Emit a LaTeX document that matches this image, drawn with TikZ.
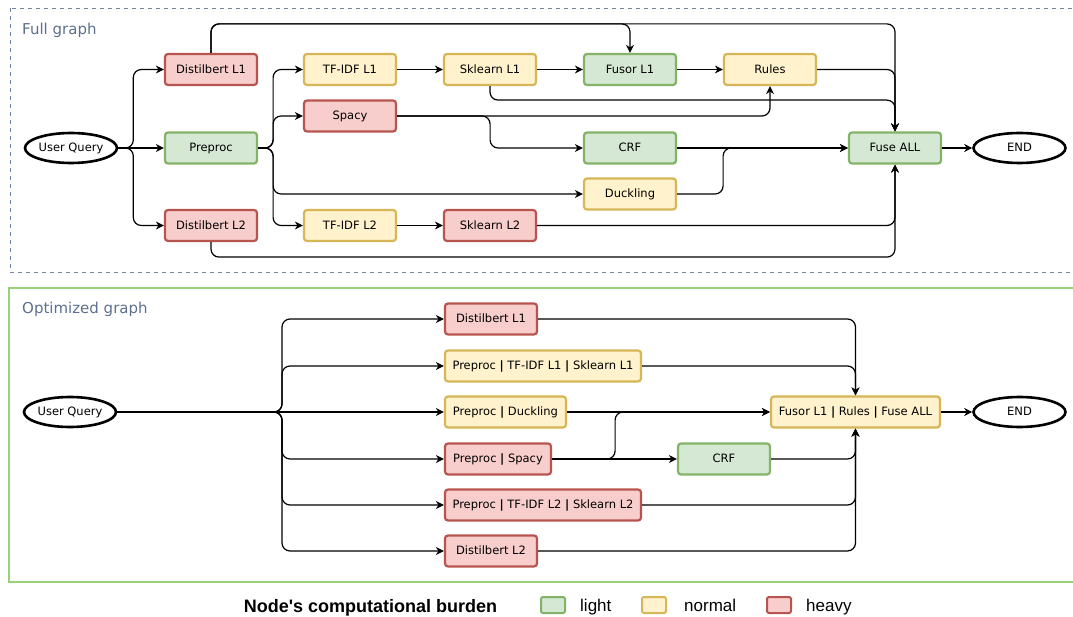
\documentclass[tikz,border=0pt]{standalone}
\usepackage{fontspec}
\setmainfont{DejaVu Sans}
\newfontfamily\legendfont{Liberation Sans}
\usetikzlibrary{arrows.meta, shapes.geometric}
\definecolor{lightfill}{HTML}{D5E8D4}
\definecolor{lightline}{HTML}{82B366}
\definecolor{normalfill}{HTML}{FFF2CC}
\definecolor{normalline}{HTML}{D6B656}
\definecolor{heavyfill}{HTML}{F8CECC}
\definecolor{heavyline}{HTML}{B85450}
\definecolor{framegray}{HTML}{7285A5}
\definecolor{titlegray}{HTML}{5D6F8E}
\definecolor{optgreen}{HTML}{97D077}
\tikzstyle{box}=[rectangle, rounded corners=3pt, line width=2.2pt, minimum width=92pt, minimum height=31pt, inner xsep=4pt, text height=8.5pt, text depth=1pt, font=\fontsize{11.5}{13}\selectfont]
\tikzstyle{lightbox}=[box, draw=lightline, fill=lightfill]
\tikzstyle{normalbox}=[box, draw=normalline, fill=normalfill]
\tikzstyle{heavybox}=[box, draw=heavyline, fill=heavyfill]
\tikzstyle{terminal}=[ellipse, draw, line width=2.6pt, minimum width=92pt, minimum height=30pt, inner sep=0pt, text height=8.5pt, text depth=1pt, font=\fontsize{11.5}{13}\selectfont]
\tikzstyle{link}=[-{Stealth[length=8pt, width=8pt, inset=2.5pt]}, line width=1.2pt, rounded corners=8pt]
\tikzstyle{grouptitle}=[anchor=west, inner sep=0pt, text=titlegray, font=\fontsize{15}{17}\selectfont]
\tikzstyle{swatch}=[rectangle, rounded corners=2pt, line width=2pt, minimum width=24pt, minimum height=16pt]
\tikzstyle{legendtext}=[anchor=base west, inner sep=0pt, font=\legendfont\fontsize{17}{19}\selectfont]

\begin{document}
\begin{tikzpicture}[x=1pt, y=-1pt]
                    \useasboundingbox (0,0) rectangle (1073,617);
                    \draw[framegray, line width=0.9pt, dash pattern=on 4pt off 4pt] (10,8) rectangle (1085,272);
                    \draw[optgreen, line width=2.4pt] (9,288) rectangle (1085,582);
                    \node[grouptitle] (fulltitle) at (22,30) {Full graph};
                    \node[grouptitle] (opttitle)  at (22,309) {Optimized graph};

                    \node[terminal]  (uq1)   at (71,148)    {User Query};
                    \node[heavybox]  (dl1)   at (211,69.5)  {Distilbert L1};
                    \node[lightbox]  (pre)   at (211,148)   {Preproc};
                    \node[heavybox]  (dl2)   at (211,225.5) {Distilbert L2};
                    \node[normalbox] (tf1)   at (350,69.5)  {TF-IDF L1};
                    \node[heavybox]  (spacy) at (350,116)   {Spacy};
                    \node[normalbox] (tf2)   at (350,225.5) {TF-IDF L2};
                    \node[normalbox] (sk1)   at (490,69.5)  {Sklearn L1};
                    \node[heavybox]  (sk2)   at (490,225.5) {Sklearn L2};
                    \node[lightbox]  (fus1)  at (630,69.5)  {Fusor L1};
                    \node[lightbox]  (crf)   at (630,148)   {CRF};
                    \node[normalbox] (duck)  at (630,194)   {Duckling};
                    \node[normalbox] (rules) at (770,69.5)  {Rules};
                    \node[lightbox]  (fall)  at (895,148)   {Fuse ALL};
                    \node[terminal]  (end1)  at (1019.5,148) {END};

                    \draw[link] (uq1.east) -- ++(15,0) |- (dl1);
                    \draw[link] (uq1) -- (pre);
                    \draw[link] (uq1.east) -- ++(15,0) |- (dl2);
                    \draw[link] (dl1.north) -- ++(0,-29) -| (fus1);
                    \draw[link] (dl1.north) -- ++(0,-29) -| (fall);
                    \draw[link] (pre.east) -- ++(15,0) |- (tf1);
                    \draw[link] (pre.east) -- ++(15,0) |- (spacy);
                    \draw[link] (pre.east) -- ++(15,0) |- (duck);
                    \draw[link] (pre.east) -- ++(15,0) |- (tf2);
                    \draw[link] (tf1) -- (sk1);
                    \draw[link] (sk1) -- (fus1);
                    \draw[link] (fus1) -- (rules);
                    \draw[link] (sk1.south) -- ++(0,14) -| (fall);
                    \draw[link] (spacy.east) -- ++(93,0) |- (crf);
                    \draw[link] (spacy.east) -| (rules);
                    \draw[link] (rules.east) -| (fall);
                    \draw[link] (crf) -- (fall);
                    \draw[link] (duck.east) -- ++(46,0) |- (fall);
                    \draw[link] (tf2) -- (sk2);
                    \draw[link] (sk2.east) -| (fall);
                    \draw[link] (dl2.south) -- ++(0,15) -| (fall);
                    \draw[link] (fall) -- (end1);

                    \node[terminal]  (uq2)    at (70,412)   {User Query};
                    \node[heavybox]  (od1)    at (491,319)  {Distilbert L1};
                    \node[normalbox, minimum width=196pt] (optf1)  at (543,366) {Preproc \textbf{|} TF-IDF L1 \textbf{|} Sklearn L1};
                    \node[normalbox, minimum width=121pt] (opduck) at (505.5,412) {Preproc \textbf{|} Duckling};
                    \node[heavybox,  minimum width=106pt] (opsp)   at (498,459) {Preproc \textbf{|} Spacy};
                    \node[heavybox,  minimum width=196pt] (optf2)  at (543,505) {Preproc \textbf{|} TF-IDF L2 \textbf{|} Sklearn L2};
                    \node[heavybox]  (od2)    at (491,551)  {Distilbert L2};
                    \node[lightbox]  (ocrf)   at (724,459)  {CRF};
                    \node[normalbox, minimum width=169pt] (ofu) at (855.5,412) {Fusor L1 \textbf{|} Rules \textbf{|} Fuse ALL};
                    \node[terminal]  (end2)   at (1019.5,412) {END};
                    \coordinate (fork) at (282,412);

                    \draw[link] (uq2.east) -- (fork) |- (od1);
                    \draw[link] (uq2.east) -- (fork) |- (optf1);
                    \draw[link] (uq2) -- (opduck);
                    \draw[link] (uq2.east) -- (fork) |- (opsp);
                    \draw[link] (uq2.east) -- (fork) |- (optf2);
                    \draw[link] (uq2.east) -- (fork) |- (od2);
                    \draw[link] (od1.east) -| (ofu);
                    \draw[link] (optf1.east) -| (ofu);
                    \draw[link] (opduck) -- (ofu);
                    \draw[link] (opsp) -- (ocrf);
                    \draw[link] (opsp.east) -- ++(63,0) |- (ofu);
                    \draw[link] (ocrf.east) -| (ofu);
                    \draw[link] (optf2.east) -| (ofu);
                    \draw[link] (od2.east) -| (ofu);
                    \draw[link] (ofu) -- (end2);

                    \node[anchor=base, inner sep=0pt, font=\legendfont\bfseries\fontsize{18}{20}\selectfont] (lgtitle) at (370.5,612) {Node's computational burden};
                    \node[swatch, draw=lightline, fill=lightfill]   (lglight)  at (553,605) {};
                    \node[legendtext] (lglighttext)  at (580,611) {light};
                    \node[swatch, draw=normalline, fill=normalfill] (lgnormal) at (654,605) {};
                    \node[legendtext] (lgnormaltext) at (684,611) {normal};
                    \node[swatch, draw=heavyline, fill=heavyfill]   (lgheavy)  at (779,605) {};
                    \node[legendtext] (lgheavytext)  at (806,611) {heavy};
                \end{tikzpicture}
\end{document}
